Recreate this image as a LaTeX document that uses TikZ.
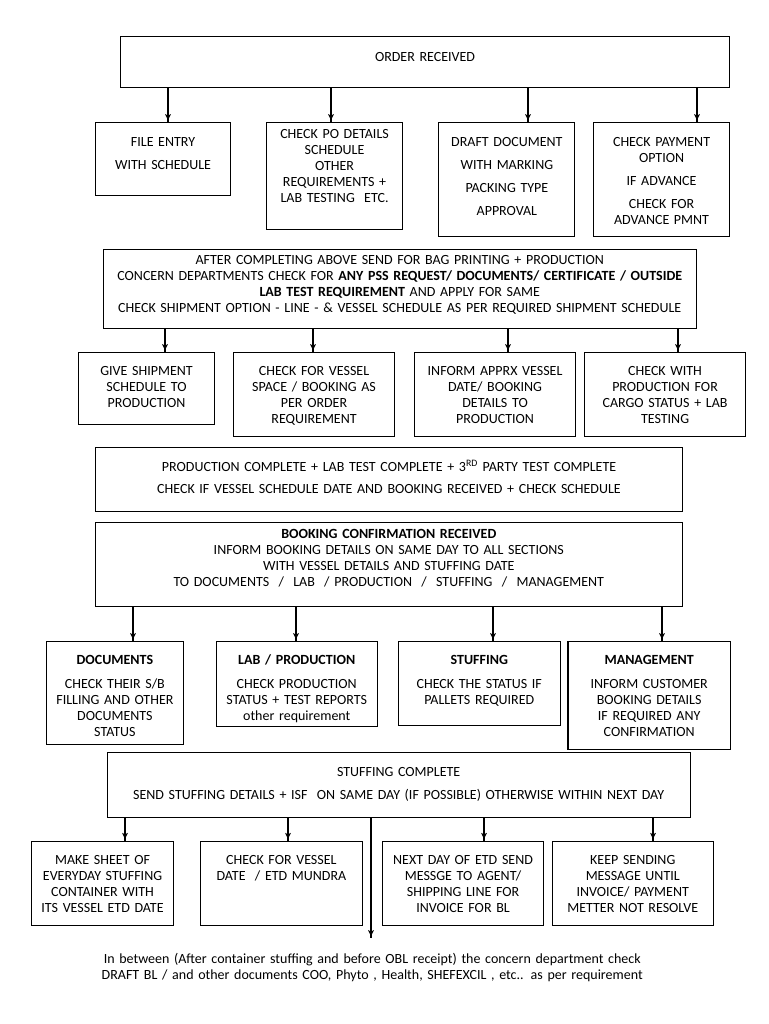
\documentclass[tikz,border=0pt]{standalone}
\usepackage{fontspec}
\setmainfont{Carlito}
\usepackage{tikz}
\usetikzlibrary{arrows}
\usetikzlibrary{decorations.markings}
\tikzset{->/.style = {decoration={markings,
                                  mark=at position 1 with {\arrow[scale=1.3]{latex'}}},
                      postaction={decorate}}}
\tikzset{box/.style n args = {3}{draw, anchor=north west, inner sep=0pt, align=center,
                                  text width=#1pt, text height=#2pt, text depth=#3pt,
                                  font=\fontsize{14}{16}\selectfont}}
\tikzset{note/.style = {anchor=north west, inner sep=0pt, align=center,
                        text width=560pt, text height=13.6pt,
                        font=\fontsize{14}{16}\selectfont}}

\begin{document}
\begin{tikzpicture}[x=1pt, y=-1pt, line width=1.1pt]
    \useasboundingbox (0,0) rectangle (768,1024);

    \node [box={609}{24.7}{26.6}] (order) at (120,36) {ORDER RECEIVED};

    \node [box={135}{24}{49}] (file) at (95,122) {FILE ENTRY\\[7.3pt]WITH SCHEDULE};
    \node [box={136.6}{16.3}{91}] (podetails) at (265.7,122)
        {CHECK PO DETAILS\\SCHEDULE\\OTHER\\REQUIREMENTS +\\LAB TESTING\ \ ETC.};
    \node [box={136}{23.7}{90.3}] (draft) at (438.3,122)
        {DRAFT DOCUMENT\\[7pt]WITH MARKING\\[7pt]PACKING TYPE\\[7pt]APPROVAL};
    \node [box={136.6}{23.7}{90.3}] (payment) at (592.7,122)
        {CHECK PAYMENT\\OPTION\\[7pt]IF ADVANCE\\[7pt]CHECK FOR\\ADVANCE PMNT};

    \node [box={593}{15.3}{64}] (printing) at (102.7,249)
        {AFTER COMPLETING ABOVE SEND FOR BAG PRINTING + PRODUCTION\\
         CONCERN DEPARTMENTS CHECK FOR \textbf{ANY PSS REQUEST/ DOCUMENTS/ CERTIFICATE / OUTSIDE}\\
         \textbf{LAB TEST REQUIREMENT} AND APPLY FOR SAME\\
         CHECK SHIPMENT OPTION - LINE - \& VESSEL SCHEDULE AS PER REQUIRED SHIPMENT SCHEDULE};

    \node [box={136.6}{23}{49}] (giveschedule) at (77.7,352)
        {GIVE SHIPMENT\\SCHEDULE TO\\PRODUCTION};
    \node [box={161.6}{23}{61}] (vesselspace) at (232.7,352)
        {CHECK FOR VESSEL\\SPACE / BOOKING AS\\PER ORDER\\REQUIREMENT};
    \node [box={161}{23}{61}] (apprxdate) at (414,352)
        {INFORM APPRX VESSEL\\DATE/ BOOKING\\DETAILS TO\\PRODUCTION};
    \node [box={161}{23}{61}] (cargostatus) at (584,352)
        {CHECK WITH\\PRODUCTION FOR\\CARGO STATUS + LAB\\TESTING};

    \node [box={587}{23.4}{40.3}] (complete) at (95,447.3)
        {PRODUCTION COMPLETE + LAB TEST COMPLETE + 3\textsuperscript{RD} PARTY TEST COMPLETE\\[6.7pt]
         CHECK IF VESSEL SCHEDULE DATE AND BOOKING RECEIVED + CHECK SCHEDULE};

    \node [box={587.5}{16}{68}] (booking) at (94.5,521.7)
        {\textbf{BOOKING CONFIRMATION RECEIVED}\\
         INFORM BOOKING DETAILS ON SAME DAY TO ALL SECTIONS\\
         WITH VESSEL DETAILS AND STUFFING DATE\\
         TO DOCUMENTS\ \ /\ \ LAB\ \ / PRODUCTION\ \ /\ \ STUFFING\ \ /\ \ MANAGEMENT};

    \node [box={136.7}{23.3}{79.7}] (documents) at (46,641)
        {\textbf{DOCUMENTS}\\[7.4pt]CHECK THEIR S/B\\FILLING AND OTHER\\DOCUMENTS\\STATUS};
    \node [box={161}{23.3}{61.4}] (labprod) at (215.7,641)
        {\textbf{LAB / PRODUCTION}\\[7.4pt]CHECK PRODUCTION\\STATUS + TEST REPORTS\\other requirement};
    \node [box={162}{23.3}{60.7}] (stuffing) at (397.7,641)
        {\textbf{STUFFING}\\[7.4pt]CHECK THE STATUS IF\\PALLETS REQUIRED};
    \node [box={162.4}{23.3}{84.7}] (management) at (567.4,641)
        {\textbf{MANAGEMENT}\\[7.4pt]INFORM CUSTOMER\\BOOKING DETAILS\\IF REQUIRED ANY\\CONFIRMATION};

    \node [box={582.8}{23.4}{41}] (stuffdone) at (106.7,752.3)
        {STUFFING COMPLETE\\[7.6pt]
         SEND STUFFING DETAILS + ISF\ \ ON SAME DAY (IF POSSIBLE) OTHERWISE WITHIN NEXT DAY};

    \node [box={142.6}{23.6}{60.7}] (everyday) at (30.7,840.7)
        {MAKE SHEET OF\\EVERYDAY STUFFING\\CONTAINER WITH\\ITS VESSEL ETD DATE};
    \node [box={161.7}{23.6}{60.7}] (etdmundra) at (200,840.7)
        {CHECK FOR VESSEL\\DATE\ \ / ETD MUNDRA};
    \node [box={161.6}{23.6}{60.7}] (invoicebl) at (381.7,840.7)
        {NEXT DAY OF ETD SEND\\MESSGE TO AGENT/\\SHIPPING LINE FOR\\INVOICE FOR BL};
    \node [box={161}{23.6}{60.7}] (keepsending) at (551.7,840.7)
        {KEEP SENDING\\MESSAGE UNTIL\\INVOICE/ PAYMENT\\METTER NOT RESOLVE};

    \node [note] (between) at (91.7,949.7)
        {In between (After container stuffing and before OBL receipt) the concern department check\\
         DRAFT BL / and other documents COO, Phyto , Health, SHEFEXCIL , etc.. as per requirement};
    \coordinate (betweentop) at (371,938);

    \draw [->] (168,0 |- order.south) -- (168,0 |- file.north);
    \draw [->] (331,0 |- order.south) -- (331,0 |- podetails.north);
    \draw [->] (528,0 |- order.south) -- (528,0 |- draft.north);
    \draw [->] (697,0 |- order.south) -- (697,0 |- payment.north);

    \draw [->] (165,0 |- printing.south) -- (165,0 |- giveschedule.north);
    \draw [->] (313,0 |- printing.south) -- (313,0 |- vesselspace.north);
    \draw [->] (508,0 |- printing.south) -- (508,0 |- apprxdate.north);
    \draw [->] (678,0 |- printing.south) -- (678,0 |- cargostatus.north);

    \draw [->] (133,0 |- booking.south) -- (133,0 |- documents.north);
    \draw [->] (296,0 |- booking.south) -- (296,0 |- labprod.north);
    \draw [->] (493,0 |- booking.south) -- (493,0 |- stuffing.north);
    \draw [->] (662,0 |- booking.south) -- (662,0 |- management.north);

    \draw [->] (125,0 |- stuffdone.south) -- (125,0 |- everyday.north);
    \draw [->] (288,0 |- stuffdone.south) -- (288,0 |- etdmundra.north);
    \draw [->] (484,0 |- stuffdone.south) -- (484,0 |- invoicebl.north);
    \draw [->] (653,0 |- stuffdone.south) -- (653,0 |- keepsending.north);
    \draw [->] (371,0 |- stuffdone.south) -- (betweentop);
\end{tikzpicture}
\end{document}
